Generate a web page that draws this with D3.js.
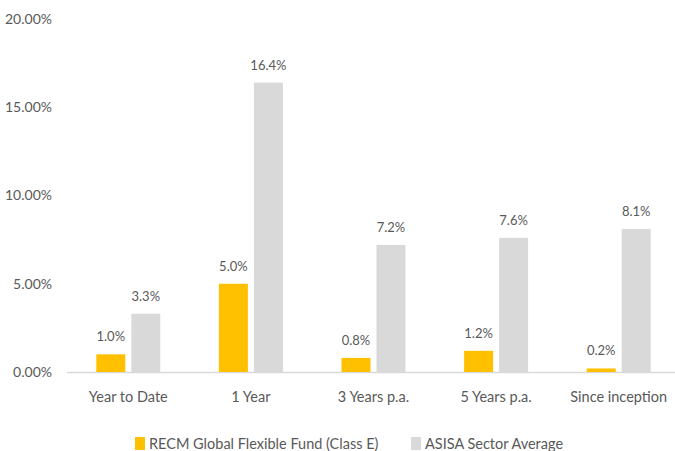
<!DOCTYPE html>
<html>
<head>
<meta charset="utf-8">
<script src="https://cdn.jsdelivr.net/npm/d3@7"></script>
<style>
    body { margin: 0; background: #fff; }
    text { font-family: Lato, "Open Sans", sans-serif; fill: #595959; }
</style>
</head>
<body>
<svg id="chart"></svg>
<script>
var categories = ['Year to Date', '1 Year', '3 Years p.a.', '5 Years p.a.', 'Since inception'];
var fundValues = [1.0, 5.0, 0.8, 1.2, 0.2];
var sectorValues = [3.3, 16.4, 7.2, 7.6, 8.1];
var seriesNames = ['RECM Global Flexible Fund (Class E)', 'ASISA Sector Average'];
var seriesColors = ['#FFC000', '#D9D9D9'];
var yTicks = [0, 5, 10, 15, 20];

var width = 675;
var height = 451;
var margin = { top: 19, right: -5, bottom: 79, left: 67 };

var svg = d3.select('#chart')
    .attr('width', width)
    .attr('height', height);

var x = d3.scaleBand()
    .domain(categories)
    .range([margin.left, width - margin.right]);

var y = d3.scaleLinear()
    .domain([0, 20])
    .range([height - margin.bottom, margin.top]);

var barW = 29;
var gap = 6;

// y tick labels
svg.selectAll('.ytick')
    .data(yTicks)
    .join('text')
    .attr('class', 'ytick')
    .attr('x', 52)
    .attr('y', d => y(d))
    .attr('dy', '0.35em')
    .attr('text-anchor', 'end')
    .attr('font-size', 14)
    .text(d => d.toFixed(2) + '%');

// axis line
svg.append('line')
    .attr('x1', margin.left)
    .attr('x2', width)
    .attr('y1', y(0) + 0.5)
    .attr('y2', y(0) + 0.5)
    .attr('stroke', '#D9D9D9')
    .attr('stroke-width', 1.5);

var series = [fundValues, sectorValues];

series.forEach(function(vals, s) {
    var offset = s === 0 ? -(barW + gap / 2) : gap / 2;
    var cx = d => x(categories[d.i]) + x.bandwidth() / 2 + offset;
    var rows = vals.map((v, i) => ({ v: v, i: i }));

    svg.selectAll('.bar-' + s)
        .data(rows)
        .join('rect')
        .attr('class', 'bar-' + s)
        .attr('x', cx)
        .attr('y', d => y(d.v))
        .attr('width', barW)
        .attr('height', d => y(0) - y(d.v))
        .attr('fill', seriesColors[s]);

    svg.selectAll('.lbl-' + s)
        .data(rows)
        .join('text')
        .attr('class', 'lbl-' + s)
        .attr('x', d => cx(d) + barW / 2)
        .attr('y', d => y(d.v) - 13)
        .attr('text-anchor', 'middle')
        .attr('font-size', 13)
        .text(d => d.v.toFixed(1) + '%');
});

// category labels
svg.selectAll('.xlbl')
    .data(categories)
    .join('text')
    .attr('class', 'xlbl')
    .attr('x', d => x(d) + x.bandwidth() / 2)
    .attr('y', 402)
    .attr('text-anchor', 'middle')
    .attr('font-size', 14.5)
    .text(d => d);

// legend
var legendX = [135, 411];
seriesNames.forEach(function(name, i) {
    svg.append('rect')
        .attr('x', legendX[i])
        .attr('y', 437)
        .attr('width', 10)
        .attr('height', 13)
        .attr('fill', seriesColors[i]);
    svg.append('text')
        .attr('x', legendX[i] + 14)
        .attr('y', 449)
        .attr('font-size', 14.5)
        .text(name);
});
</script>
</body>
</html>
